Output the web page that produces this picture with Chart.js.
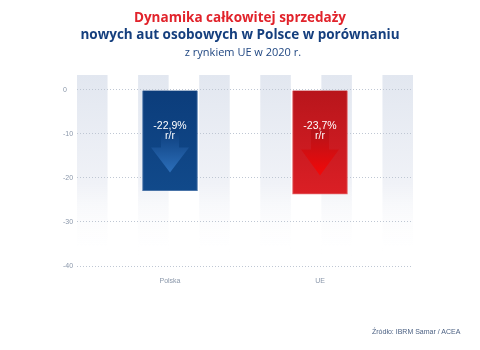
<!DOCTYPE html>
<html lang="pl">
<head>
<meta charset="utf-8">
<title>Dynamika sprzedaży nowych aut osobowych</title>
<script src="https://cdn.jsdelivr.net/npm/chart.js@4.4.1/dist/chart.umd.min.js"></script>
<style>
  html, body { margin: 0; padding: 0; background: #fff; }
  #wrap { position: relative; width: 480px; height: 350px; overflow: hidden; }
  #chart { position: absolute; left: 0; top: 0; }
  .t { position: absolute; left: 0; width: 480px; text-align: center; white-space: nowrap; }
  #t1 { top: 9px; font: bold 13.5px/16px "Open Sans", sans-serif; color: #e1232b; }
  #t2 { top: 26px; font: bold 13.5px/16px "Open Sans", sans-serif; color: #153f7e; }
  #t3 { top: 45px; left: 3px; font: 11px/13px "Open Sans", sans-serif; color: #1f4681; }
  #src { position: absolute; left: 372px; top: 327px; font: 7px/9px "Liberation Sans", sans-serif; color: #4c6183; white-space: nowrap; }
</style>
</head>
<body>
<div id="wrap">
  <canvas id="chart" width="480" height="350"></canvas>
  <div class="t" id="t1">Dynamika całkowitej sprzedaży</div>
  <div class="t" id="t2">nowych aut osobowych w Polsce w porównaniu</div>
  <div class="t" id="t3">z rynkiem UE w 2020 r.</div>
  <div id="src">Źródło: IBRM Samar / ACEA</div>
</div>
<script>
// dane
var categories = ['Polska', 'UE'];
var changes = [-22.9, -23.7];
var yTicks = [0, -10, -20, -30, -40];

// kolory słupków: [góra, dół, obramowanie, strzałka]
var barColors = [
    ['#0b3b79', '#114a8b', '#4a74a8', '#2c6fba'],
    ['#b3141a', '#db1f25', '#e4686b', '#f40808']
];

function fmt(v) {
    return v.toFixed(1).replace('.', ',') + '%';
}

// pionowe pasy w tle
var stripes = {
    id: 'stripes',
    beforeDraw: function(chart) {
        var a = chart.chartArea, ctx = chart.ctx;
        var n = 11, w = (a.right - a.left) / n;
        var g = ctx.createLinearGradient(0, a.top, 0, a.bottom - 10);
        g.addColorStop(0, '#e2e7f0');
        g.addColorStop(0.6, '#f0f2f7');
        g.addColorStop(1, 'rgba(255,255,255,0)');
        ctx.save();
        ctx.fillStyle = g;
        for (var i = 0; i < n; i += 2) {
            ctx.fillRect(a.left + i * w, a.top, w, a.bottom - a.top);
        }
        ctx.restore();
    }
};

// strzałka i opis w środku słupka
var arrows = {
    id: 'arrows',
    afterDatasetsDraw: function(chart) {
        var ctx = chart.ctx,
            meta = chart.getDatasetMeta(0),
            top = chart.scales.y.getPixelForValue(0);
        meta.data.forEach(function(bar, i) {
            var x = bar.x, h = bar.y - top, c = barColors[i];
            var sTop = top + h * 0.38, hTop = top + h * 0.57, tip = top + h * 0.82;
            var g = ctx.createLinearGradient(0, sTop, 0, tip);
            g.addColorStop(0, c[0]);
            g.addColorStop(1, c[3]);
            ctx.save();
            ctx.fillStyle = g;
            ctx.beginPath();
            ctx.moveTo(x - 9, sTop);
            ctx.lineTo(x + 9, sTop);
            ctx.lineTo(x + 9, hTop);
            ctx.lineTo(x + 19, hTop);
            ctx.lineTo(x, tip);
            ctx.lineTo(x - 19, hTop);
            ctx.lineTo(x - 9, hTop);
            ctx.closePath();
            ctx.fill();

            ctx.fillStyle = '#fff';
            ctx.textAlign = 'center';
            ctx.textBaseline = 'middle';
            ctx.font = '10.5px "Liberation Sans", Arial, sans-serif';
            ctx.fillText(fmt(changes[i]), x, top + 36);
            ctx.fillText('r/r', x, top + 46);
            ctx.restore();
        });
    }
};

var ctx = document.getElementById('chart').getContext('2d');

new Chart(ctx, {
    type: 'bar',
    data: {
        datasets: [{
            data: categories.map(function(c, i) { return { x: i + 1, y: changes[i] }; }),
            barThickness: 55,
            borderWidth: 1,
            borderColor: function(c) { return barColors[c.dataIndex][2]; },
            backgroundColor: function(c) {
                var a = c.chart.chartArea;
                if (!a) return barColors[c.dataIndex][0];
                var g = c.chart.ctx.createLinearGradient(0, a.top, 0, a.top + 120);
                g.addColorStop(0, barColors[c.dataIndex][0]);
                g.addColorStop(1, barColors[c.dataIndex][1]);
                return g;
            }
        }]
    },
    options: {
        responsive: false,
        animation: false,
        layout: { padding: { left: 63, right: 67, top: 75, bottom: 62 } },
        plugins: {
            legend: { display: false },
            tooltip: { enabled: false }
        },
        scales: {
            x: {
                type: 'linear',
                offset: false,
                min: 0.38,
                max: 2.62,
                afterBuildTicks: function(s) {
                    s.ticks = categories.map(function(c, i) { return { value: i + 1 }; });
                },
                afterFit: function(s) { s.height = 22; },
                ticks: {
                    padding: 3,
                    color: '#8a97aa',
                    font: { family: 'Liberation Sans', size: 7 },
                    callback: function(v) { return categories[v - 1]; }
                },
                grid: { display: false, offset: false },
                border: { display: false }
            },
            y: {
                min: -40,
                max: 3.4,
                afterBuildTicks: function(s) {
                    s.ticks = yTicks.map(function(v) { return { value: v }; });
                },
                afterFit: function(s) { s.width = 14; },
                ticks: {
                    crossAlign: 'far',
                    color: '#8a97aa',
                    font: { family: 'Liberation Sans', size: 7 }
                },
                grid: { color: '#bfc7d3', drawTicks: false },
                border: { display: false, dash: [1, 2] }
            }
        }
    },
    plugins: [stripes, arrows]
});
</script>
</body>
</html>
